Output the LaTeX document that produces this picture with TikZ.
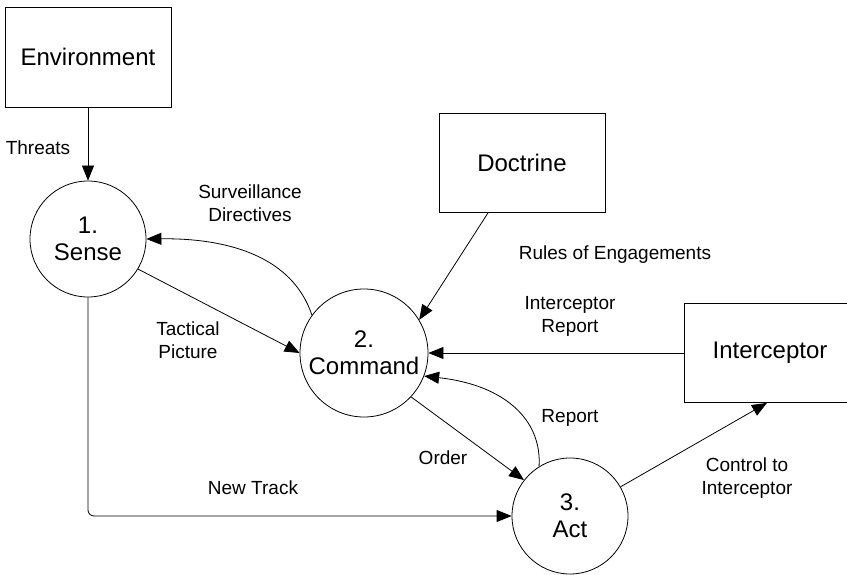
\documentclass[tikz,border=0pt]{standalone}
\usepackage{fontspec}
\setmainfont{Liberation Sans}
\usetikzlibrary{arrows.meta}

\begin{document}
\begin{tikzpicture}[x=1pt,y=-1pt,
  entity/.style={draw,line width=0.8pt,minimum width=166pt,minimum height=100pt,inner sep=0pt,font=\fontsize{24}{27}\selectfont},
  process/.style={draw,circle,line width=0.8pt,inner sep=0pt,align=center,font=\fontsize{24}{27}\selectfont},
  flow/.style={line width=0.8pt,-{Triangle[length=15pt,width=12pt]}},
  lbl/.style={align=center,inner sep=0pt,font=\fontsize{19}{23}\selectfont}]
  \useasboundingbox (0,0) rectangle (847,575);

  % external entities
  \node[entity] (env) at (88,57) {Environment};
  \node[entity,minimum height=99pt] (doc) at (522,163) {Doctrine};
  % right side runs off the page
  \node[entity,minimum height=99pt,minimum width=172pt] (icp) at (770,353) {Interceptor};

  % processes
  \node[process,minimum size=116pt] (sense) at (88,239) {1.\\Sense};
  \node[process,minimum size=128pt] (cmd) at (364,353) {2.\\Command};
  \node[process,minimum size=116pt] (act) at (570,516) {3.\\Act};

  % data flows
  \draw[flow] (env) -- (sense);
  \draw[flow] (cmd.144) .. controls (292,255) and (225,238) .. (sense.east);
  \draw[flow] ([xshift=-34pt]doc.south) -- (cmd.31);
  \draw[flow] (icp.west) -- (cmd.east);
  \draw[flow] (sense.-31) -- (cmd.west);
  \draw[flow] (cmd.-43) -- (act.142);
  \draw[flow] (act.122) .. controls (542,420) and (505,385) .. (cmd.-21);
  \draw[flow,rounded corners=6pt] (sense.south) |- (act.west);
  \draw[flow] (act.30) -- ([xshift=-3pt]icp.south);

  % flow labels
  \node[lbl] (lthreats) at (38,148) {Threats};
  \node[lbl] (lsurv) at (250,203) {Surveillance\\Directives};
  \node[lbl] (lrules) at (615,255) {Rules of Engagements};
  \node[lbl] (lirep) at (570,316) {Interceptor\\Report};
  \node[lbl] (ltact) at (188,340) {Tactical\\Picture};
  \node[lbl] (lrep) at (570,418) {Report};
  \node[lbl] (lorder) at (443,458) {Order};
  \node[lbl] (ltrack) at (253,488) {New Track};
  \node[lbl] (lctrl) at (747,478) {Control to\\Interceptor};
\end{tikzpicture}
\end{document}
